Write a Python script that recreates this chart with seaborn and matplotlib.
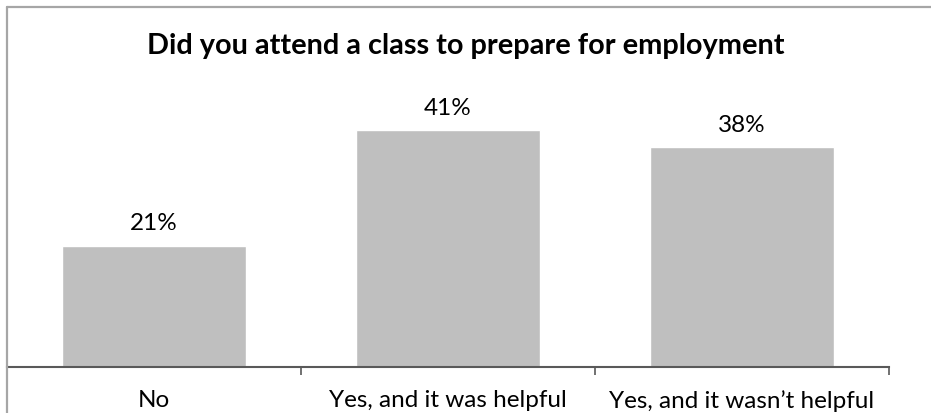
import matplotlib
matplotlib.use("Agg")
import matplotlib.pyplot as plt
from matplotlib.lines import Line2D
from matplotlib.ticker import FixedLocator, NullFormatter
import seaborn as sns
import pandas as pd

categories = ["No", "Yes, and it was helpful", "Yes, and it wasn\u2019t helpful"]
shares = [21, 41, 38]
title = "Did you attend a class to prepare for employment"

sns.set_theme(style="white")
plt.rcParams["font.family"] = ["Lato", "DejaVu Sans"]

df = pd.DataFrame({"answer": categories, "share": shares})

W, H = 931, 414
fig = plt.figure(figsize=(W / 100, H / 100), dpi=100)
ax = fig.add_axes([7 / W, (H - 368) / H, (889 - 7) / W, (368 - 108) / H])

sns.barplot(data=df, x="answer", y="share", color="#BFBFBF", width=0.626,
            saturation=1, ax=ax)

ax.set_ylim(0, 45)
ax.set_xlim(-0.5, 2.5)
for side in ("left", "right", "top"):
    ax.spines[side].set_visible(False)
ax.spines["bottom"].set_color("#595959")
ax.spines["bottom"].set_linewidth(1.5)
ax.set_yticks([])
ax.set_xlabel("")
ax.set_ylabel("")

# category dividers as outward minor ticks
ax.xaxis.set_minor_locator(FixedLocator([-0.5, 0.5, 1.5, 2.5]))
ax.xaxis.set_minor_formatter(NullFormatter())
ax.tick_params(axis="x", which="minor", direction="out", length=6,
               width=1.2, color="#595959", bottom=True)
ax.tick_params(axis="x", which="major", length=0, pad=16,
               labelsize=17.5, labelcolor="black")

for container in ax.containers:
    ax.bar_label(container, labels=[f"{v}%" for v in shares], padding=9,
                 fontsize=17.5, color="black")

fig.text(466 / W, 1 - 46 / H, title, ha="center", va="center",
         fontsize=20.8, fontweight="bold", color="black")

# chart frame
frame_kw = dict(color="#A6A6A6", linewidth=1.6, transform=fig.transFigure)
fig.add_artist(Line2D([6.5 / W, 6.5 / W], [0, 1 - 7.5 / H], **frame_kw))
fig.add_artist(Line2D([6.5 / W, 1], [1 - 7.5 / H, 1 - 7.5 / H], **frame_kw))

fig.savefig("out.png", dpi=100, facecolor="white")
